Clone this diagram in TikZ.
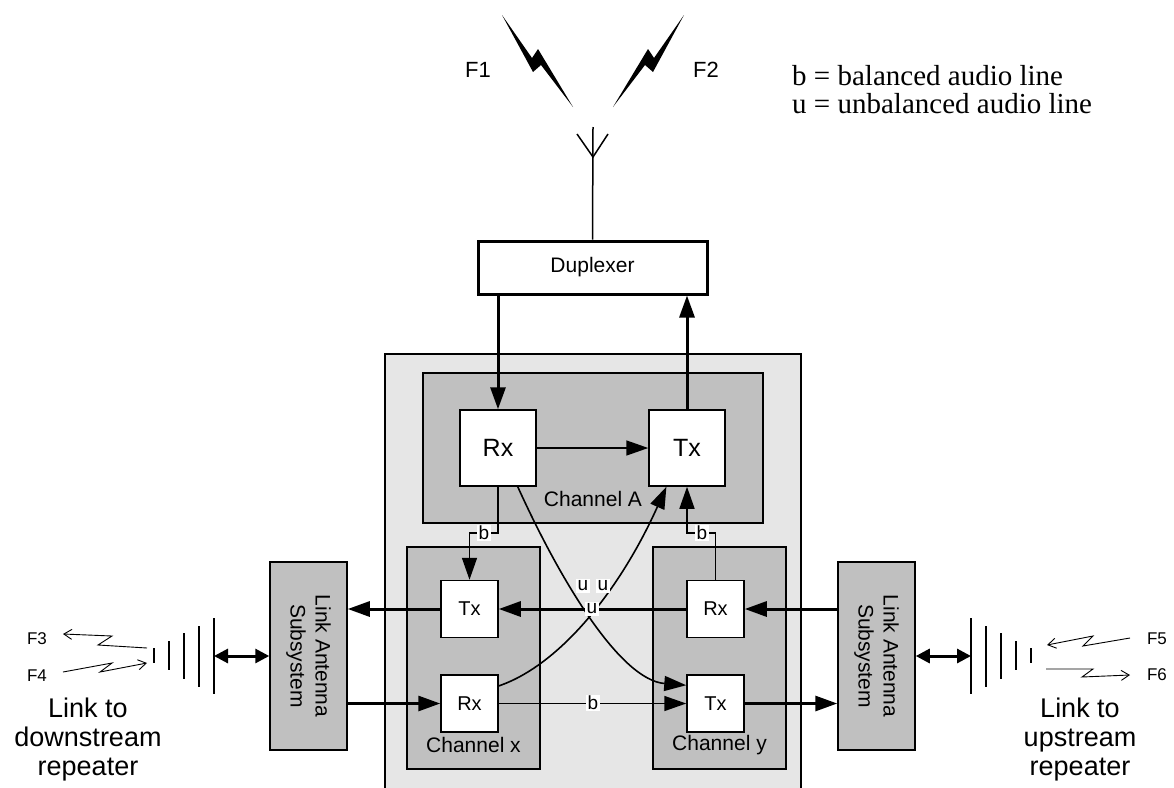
\documentclass[tikz,border=0pt]{standalone}
\usepackage{fontspec}
\setmainfont{Liberation Sans}
\newfontfamily\legendfont{Liberation Serif}
\usetikzlibrary{arrows.meta}
\definecolor{lightbg}{HTML}{E6E6E6}
\definecolor{chgray}{HTML}{C0C0C0}
\tikzset{
  unitbox/.style={draw, line width=1.5pt, fill=white, minimum width=57pt, minimum height=57pt, inner sep=0pt, font=\fontsize{20}{24}\selectfont},
  bigunit/.style={unitbox, minimum width=76pt, minimum height=76pt, font=\fontsize{25}{30}\selectfont},
  chbox/.style={draw, line width=1.5pt, fill=chgray, inner sep=0pt},
  thk/.style={line width=3pt, -{Triangle[length=22pt,width=15pt]}},
  thn/.style={line width=1.6pt, -{Triangle[length=22pt,width=15pt]}},
  dbl/.style={line width=3pt, {Triangle[length=14pt,width=14pt]}-{Triangle[length=14pt,width=14pt]}},
  lbl/.style={fill=white, inner sep=1.5pt, font=\fontsize{19}{22}\selectfont},
  sig/.style={line width=0.9pt, -{Straight Barb[length=8pt,width=10pt,line width=0.9pt]}},
  yagi/.style={line width=1.5pt},
  chlabel/.style={font=\fontsize{21}{25}\selectfont, inner sep=0pt},
  flabel/.style={font=\fontsize{22}{26}\selectfont, inner sep=0pt},
  fsmall/.style={font=\fontsize{17}{20}\selectfont, inner sep=0pt},
  linklabel/.style={font=\fontsize{27}{29}\selectfont, align=center, inner sep=0pt},
  legend/.style={font=\legendfont\fontsize{29}{32}\selectfont, anchor=base west, inner sep=0pt},
}
\begin{document}
\begin{tikzpicture}[x=1pt,y=-1pt]
\useasboundingbox (0,0) rectangle (1174,787);
\clip (0,0) rectangle (1174,787);

% legend
\node[legend] (leg1) at (792,85) {b = balanced audio line};
\node[legend] (leg2) at (792,113) {u = unbalanced audio line};

% main antenna and lightning
\fill (502,15) -- (533,72) -- (541,65) -- (573,107) -- (538,49) -- (532,58) -- cycle;
\fill (684,15) -- (653,72) -- (645,65) -- (613,107) -- (648,49) -- (654,58) -- cycle;
\node[flabel] (f1) at (478,70) {F1};
\node[flabel] (f2) at (706,70) {F2};
\draw[line width=1.5pt] (577,134) -- (593,157) -- (608,134);

% duplexer
\node[draw, line width=3pt, fill=white, minimum width=229pt, minimum height=53pt, font=\fontsize{21}{25}\selectfont] (dup) at (592.5,267.5) {Duplexer};
\draw[line width=1.5pt] (593,127) -- (dup.north);

% main enclosure
\fill[lightbg] (385,354) rectangle (801,795);
\draw[line width=1.5pt] (385,795) |- (801,354) -- (801,795);

% channel boxes
\node[chbox, minimum width=340pt, minimum height=150pt] (chA) at (593,448) {};
\node[chbox, minimum width=133pt, minimum height=222pt] (chX) at (473.5,658) {};
\node[chbox, minimum width=133pt, minimum height=222pt] (chY) at (719.5,658) {};
\node[chlabel] (chAl) at (593,499) {Channel A};
\node[chlabel] (chXl) at (473.5,745) {Channel x};
\node[chlabel] (chYl) at (719.5,745) {Channel y};

% units
\node[bigunit] (rxA) at (498,448) {Rx};
\node[bigunit] (txA) at (687,448) {Tx};
\node[unitbox] (txX) at (469.5,609) {Tx};
\node[unitbox] (rxX) at (469.5,703.5) {Rx};
\node[unitbox] (rxY) at (715.5,609) {Rx};
\node[unitbox] (txY) at (715.5,703.5) {Tx};

% link antenna subsystems
\node[chbox, minimum width=77pt, minimum height=188pt] (lasL) at (308.5,656) {};
\node[chlabel, rotate=-90, align=center] (lasLt) at (308.5,656) {Link Antenna\\Subsystem};
\node[chbox, minimum width=77pt, minimum height=188pt] (lasR) at (876.5,656) {};
\node[chlabel, rotate=-90, align=center] (lasRt) at (876.5,656) {Link Antenna\\Subsystem};

% duplexer connections
\draw[thk] (rxA.north |- dup.south) -- (rxA.north);
\draw[thk] (txA.north) -- (txA.north |- dup.south);
\draw[thn] (rxA.east) -- (txA.west);

% b connectors
\draw[thn] (rxA.south) -- (rxA.south |- 0,533) -| (txX.north);
\node[lbl] (b1) at (484,533) {b};
\draw[thn] (rxY.north) -- (rxY.north |- 0,533) -| (txA.south);
\node[lbl] (b2) at (702,533) {b};

% crossing curves
\draw[thn] (rxA.-63) .. controls (560,580) and (620,680) .. (txY.148);
\draw[thn] (rxX.31.5) .. controls (560,665) and (620,590) .. (txA.-118);

% horizontal links
\draw[thk] (rxY.west) -- (txX.east);
\draw[thk] (txX.west) -- (lasL.east |- txX.west);
\draw[thk] (lasL.east |- rxX.west) -- (rxX.west);
\draw[thn] (rxX.east) -- (txY.west);
\node[lbl] (b3) at (593,703) {b};
\draw[thk] (lasR.west |- rxY.east) -- (rxY.east);
\draw[thk] (txY.east) -- (lasR.west |- txY.east);

% u labels
\node[lbl] (u1) at (583,586) {u};
\node[lbl] (u2) at (603,586) {u};
\node[lbl] (u3) at (592,609) {u};

% left yagi
\draw[yagi] (154,648) -- (154,663);
\draw[yagi] (169,641) -- (169,670);
\draw[yagi] (184,633) -- (184,679);
\draw[yagi] (199,626) -- (199,687);
\draw[yagi] (214,618) -- (214,694);
\coordinate (yL) at (214,656);
\draw[dbl] (yL) -- (lasL.west);

% right yagi
\draw[yagi] (971,618) -- (971,694);
\draw[yagi] (986,626) -- (986,687);
\draw[yagi] (1001,633) -- (1001,679);
\draw[yagi] (1016,641) -- (1016,670);
\draw[yagi] (1031,648) -- (1031,663);
\coordinate (yR) at (971,656);
\draw[dbl] (lasR.east) -- (yR);

% link signals
\draw[sig] (147,648) -- (98,645) -- (112,636) -- (63,634);
\draw[sig] (63,672) -- (112,663) -- (100,672) -- (147,663);
\draw[sig] (1130,638) -- (1083,646) -- (1093,636) -- (1047,645);
\draw[sig] (1046,669) -- (1093,669) -- (1082,677) -- (1130,675);
\node[fsmall] (f3) at (37,639) {F3};
\node[fsmall] (f4) at (37,676) {F4};
\node[fsmall] (f5) at (1157,639) {F5};
\node[fsmall] (f6) at (1157,675) {F6};

\node[linklabel] (linkL) at (88,740) {Link to\\downstream\\repeater};
\node[linklabel] (linkR) at (1080,740) {Link to\\upstream\\repeater};
\end{tikzpicture}
\end{document}
